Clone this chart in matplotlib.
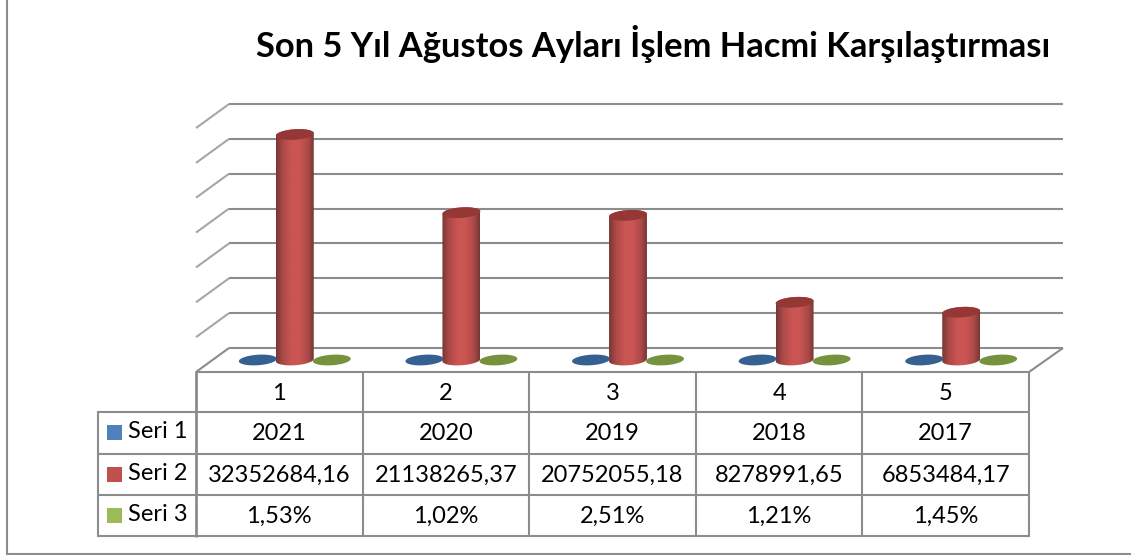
import numpy as np
import matplotlib
matplotlib.use("Agg")
import matplotlib.pyplot as plt
from matplotlib.colors import LinearSegmentedColormap
from matplotlib.patches import Polygon, Rectangle

plt.rcParams['font.family'] = ['Lato', 'DejaVu Sans']

title = "Son 5 Yıl Ağustos Ayları İşlem Hacmi Karşılaştırması"
categories = ["1", "2", "3", "4", "5"]
series_names = ["Seri 1", "Seri 2", "Seri 3"]
seri1 = [2021, 2020, 2019, 2018, 2017]
seri2 = [32352684.16, 21138265.37, 20752055.18, 8278991.65, 6853484.17]
seri3 = [1.53, 1.02, 2.51, 1.21, 1.45]
seri3_labels = ["1,53%", "1,02%", "2,51%", "1,21%", "1,45%"]
seri2_labels = ["32352684,16", "21138265,37", "20752055,18", "8278991,65", "6853484,17"]
y_ticks = [0, 5e6, 10e6, 15e6, 20e6, 25e6, 30e6, 35e6]

W, H = 1131, 555
GRID = "#8c8c8c"
LEGEND_COLORS = ["#4f81bd", "#c0504d", "#9bbb59"]
TOP_COLORS = ["#376092", "#953735", "#76923c"]

# plot area in pixels
X0, X1 = 196, 1029
Y0 = 372
PX_PER_VALUE = 34.85 / 5e6
DEPTH_X, DEPTH_Y = 33, 24
BAR_W, BAR_H = 38, 10.5
TILT = np.radians(-4)
SERIES_OFFSET = [-38, -1, 36]

fig = plt.figure(figsize=(W / 100, H / 100), dpi=100)

# pixel axes for the frame, the title and the data table
ax_px = fig.add_axes([0, 0, 1, 1])
ax_px.set_xlim(0, W)
ax_px.set_ylim(H, 0)
ax_px.axis("off")

# data axes: x is the category, y the value, same area as the table columns
ax = fig.add_axes([X0 / W, (H - Y0) / H, (X1 - X0) / W, (Y0 - 90) / H])
ax.set_xlim(0, len(categories))
ax.set_ylim(0, (Y0 - 90) / PX_PER_VALUE)
ax.axis("off")
ax.patch.set_alpha(0)

dx = len(categories) / (X1 - X0)  # category units per pixel
dy = 1 / PX_PER_VALUE  # value units per pixel


def line_px(xs, ys, color=GRID, lw=1.5):
    ax_px.plot(xs, ys, color=color, lw=lw, solid_capstyle="butt", solid_joinstyle="miter")


def ellipse(cx, cy, part="full"):
    # ellipse around (cx, cy) in data units, slightly tilted like the 3d view
    if part == "full":
        t = np.linspace(0, 2 * np.pi, 80)
    elif part == "lower":
        t = np.linspace(np.pi, 2 * np.pi, 40)
    else:
        t = np.linspace(0, np.pi, 40)
    ex = BAR_W / 2 * np.cos(t)
    ey = BAR_H / 2 * np.sin(t)
    rx = ex * np.cos(TILT) + ey * np.sin(TILT)
    ry = -ex * np.sin(TILT) + ey * np.cos(TILT)
    return np.column_stack([cx + rx * dx, cy + ry * dy])


def draw_cylinder(cat, value, s):
    cx = cat + 0.5 + (DEPTH_X / 2 + SERIES_OFFSET[s]) * dx
    base = DEPTH_Y / 2 * dy
    top = base + value
    height_px = value * PX_PER_VALUE
    if height_px > 1:
        body = np.vstack([ellipse(cx, base, "lower"), ellipse(cx, top, "upper")])
        clip = Polygon(body, closed=True, transform=ax.transData, fc="none", ec="none")
        ax.add_patch(clip)
        cmap = LinearSegmentedColormap.from_list(
            "cyl", [(0, "#7a3634"), (0.18, "#ab4a48"), (0.42, "#cb5553"),
                    (0.62, "#cb5553"), (0.85, "#ab4a48"), (1, "#7a3634")])
        grad = np.linspace(0, 1, 64).reshape(1, -1)
        im = ax.imshow(grad, cmap=cmap, aspect="auto", interpolation="bilinear", zorder=3,
                       extent=[cx - BAR_W / 2 * dx, cx + BAR_W / 2 * dx, base - 10 * dy, top + 10 * dy])
        im.set_clip_path(clip)
    ax.add_patch(Polygon(ellipse(cx, top), closed=True, fc=TOP_COLORS[s], ec="none", zorder=4))


# frame, open on the right and at the top
line_px([7, 7, W], [0, 553.5, 553.5])

# back wall and side wall gridlines from the value ticks
for v in y_ticks:
    yf = Y0 - v * PX_PER_VALUE
    line_px([X0, X0 + DEPTH_X], [yf, yf - DEPTH_Y], color="#a6a6a6" if v else GRID)
    line_px([X0 + DEPTH_X, X1 + DEPTH_X + 1], [yf - DEPTH_Y, yf - DEPTH_Y])
line_px([X1, X1 + DEPTH_X + 1], [Y0, Y0 - DEPTH_Y])

# cylinders, the tiny series first so the red ones sit on top
for i in range(len(categories)):
    draw_cylinder(i, seri1[i], 0)
    draw_cylinder(i, seri3[i], 2)
for i in range(len(categories)):
    draw_cylinder(i, seri2[i], 1)
ax.set_xlim(0, len(categories))
ax.set_ylim(0, (Y0 - 90) / PX_PER_VALUE)

ax_px.text(653, 44, title, ha="center", va="center", fontsize=24.8, fontweight="bold", color="black")

# data table
col_x = np.linspace(X0, X1, len(categories) + 1)
row_y = [372, 412, 453.5, 495, 536]
LEFT = 97.5
for j, x in enumerate(col_x):
    line_px([x, x], [row_y[0] - 0.75, row_y[-1] + 0.75], lw=2.0 if j == 0 else 1.5)
line_px([X0, X1 + 0.75], [row_y[0], row_y[0]])
for y in row_y[1:]:
    line_px([LEFT - 0.75, X1 + 0.75], [y, y])
line_px([LEFT, LEFT], [row_y[1] - 0.75, row_y[-1] + 0.75])

rows = [categories, [str(v) for v in seri1], seri2_labels, seri3_labels]
for r, labels in enumerate(rows):
    yc = (row_y[r] + row_y[r + 1]) / 2 + 1
    for c, lab in enumerate(labels):
        ax_px.text((col_x[c] + col_x[c + 1]) / 2, yc, lab, ha="center", va="center",
                   fontsize=17, color="black")
for s, name in enumerate(series_names):
    yc = (row_y[s + 1] + row_y[s + 2]) / 2
    ax_px.add_patch(Rectangle((107, yc - 7.5), 15, 15, fc=LEGEND_COLORS[s], ec="none"))
    ax_px.text(128, yc - 1, name, ha="left", va="center", fontsize=17, color="black")

fig.savefig("out.png", dpi=100)
